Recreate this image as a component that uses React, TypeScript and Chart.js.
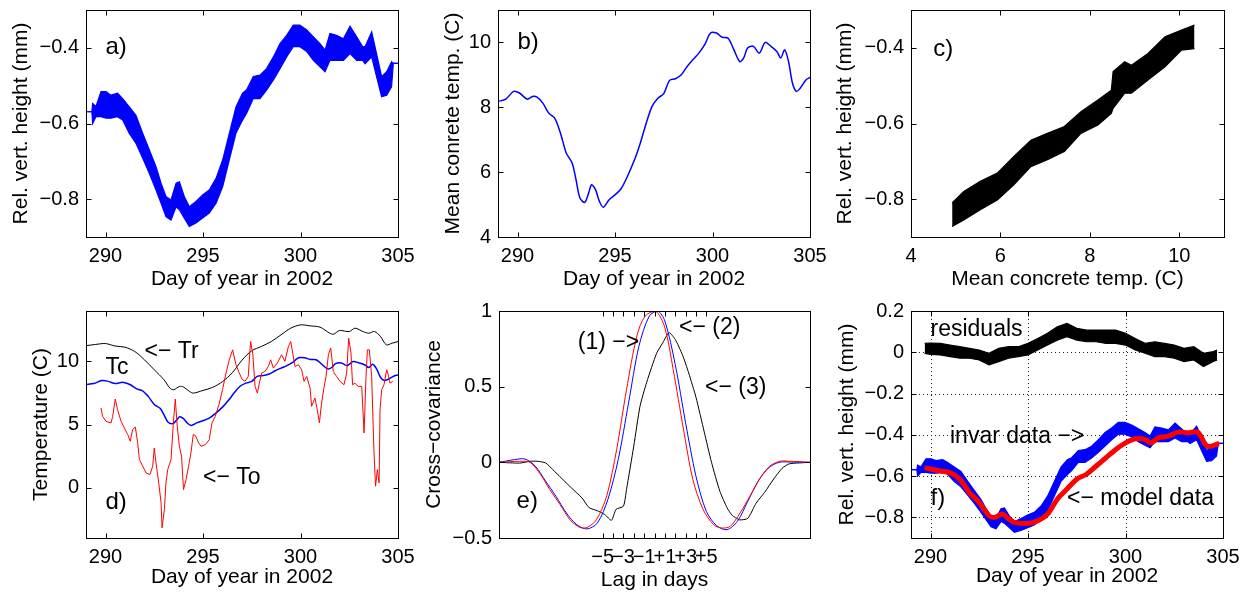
import React, { useEffect, useRef } from "react";
import { Chart, registerables } from "chart.js";

Chart.register(...registerables);

const FONT = '"Liberation Sans", Arial, Helvetica, sans-serif';
const TICK_FONT = 20;
const TITLE_FONT = 21;
const NOTE_FONT = 23;
const BLUE = "#0000ff";
const RED = "#ff0000";
const BLACK = "#000000";

// ---------- Tick values ----------
const dayTicks = [290, 295, 300, 305];
const heightTicks = [-0.8, -0.6, -0.4];
const concreteTicks = [4, 6, 8, 10];
const tempTicks = [0, 5, 10];
const lagTicks = [-5, -4, -3, -2, -1, 0, 1, 2, 3, 4, 5];
const lagTickLabels = ["\u22125", "", "\u22123", "", "\u22121", "", "+1", "", "+3", "", "+5"];
const covTicks = [-0.5, 0, 0.5, 1];
const fTicks = [-0.8, -0.6, -0.4, -0.2, 0, 0.2];

// ---------- Invar relative vertical height (band: upper/lower envelope) ----------
const hDays = [289.0, 289.3, 289.34, 289.51, 289.77, 290.03, 290.28, 290.62, 290.88, 291.22,
  291.56, 291.91, 292.25, 292.59, 292.85, 293.1, 293.36, 293.62, 293.79, 294.04,
  294.3, 294.64, 294.98, 295.32, 295.67, 296.01, 296.35, 296.69, 297.03, 297.24,
  297.58, 297.92, 298.26, 298.61, 298.95, 299.29, 299.63, 299.97, 300.32, 300.66,
  301.0, 301.26, 301.51, 301.85, 302.2, 302.54, 302.88, 303.19, 303.31, 303.65,
  303.9, 304.16, 304.42, 304.67, 304.76, 305.05];
const hUpper = [-0.569, -0.569, -0.547, -0.555, -0.516, -0.516, -0.525, -0.52, -0.534, -0.556,
  -0.578, -0.626, -0.67, -0.714, -0.758, -0.793, -0.802, -0.758, -0.754, -0.793,
  -0.82, -0.806, -0.789, -0.776, -0.745, -0.696, -0.626, -0.556, -0.52, -0.511,
  -0.476, -0.472, -0.455, -0.424, -0.389, -0.367, -0.34, -0.34, -0.353, -0.371,
  -0.389, -0.406, -0.362, -0.367, -0.376, -0.343, -0.371, -0.397, -0.397, -0.358,
  -0.415, -0.476, -0.463, -0.437, -0.441, -0.441];
const hLower = [-0.569, -0.569, -0.6, -0.582, -0.582, -0.586, -0.586, -0.582, -0.591, -0.626,
  -0.652, -0.692, -0.732, -0.776, -0.811, -0.846, -0.855, -0.82, -0.828, -0.85,
  -0.872, -0.863, -0.85, -0.837, -0.811, -0.767, -0.696, -0.626, -0.591, -0.573,
  -0.534, -0.534, -0.512, -0.485, -0.455, -0.424, -0.397, -0.397, -0.41, -0.433,
  -0.45, -0.463, -0.433, -0.433, -0.433, -0.415, -0.433, -0.433, -0.442, -0.424,
  -0.476, -0.529, -0.525, -0.503, -0.441, -0.441];

// ---------- Mean concrete temperature Tc ----------
const tcDays = [289, 289.4, 289.8, 290.1, 290.5, 290.8, 291.0, 291.3, 291.6, 291.9,
  292.2, 292.5, 292.8, 293.0, 293.2, 293.45, 293.65, 293.8, 294.0, 294.2,
  294.4, 294.7, 295.0, 295.3, 295.6, 296.0, 296.3, 296.6, 296.9, 297.2,
  297.5, 297.8, 298.1, 298.4, 298.7, 299.0, 299.3, 299.6, 299.9, 300.2,
  300.5, 300.8, 301.1, 301.4, 301.6, 301.8, 302.1, 302.4, 302.7, 303.0,
  303.3, 303.5, 303.7, 303.9, 304.1, 304.3, 304.5, 304.8, 305.0];
const tcValues = [8.18, 8.25, 8.49, 8.44, 8.25, 8.34, 8.31, 8.13, 7.82, 7.67,
  7.21, 6.59, 6.28, 5.77, 5.2, 5.07, 5.36, 5.61, 5.46, 5.1,
  4.92, 5.15, 5.3, 5.48, 5.82, 6.38, 6.9, 7.51, 8.03, 8.28,
  8.42, 8.83, 8.88, 9.0, 9.26, 9.47, 9.67, 9.93, 10.29, 10.29,
  10.16, 10.13, 9.77, 9.41, 9.52, 9.83, 9.88, 9.67, 10.0, 9.88,
  9.72, 9.52, 9.77, 9.41, 8.75, 8.49, 8.59, 8.85, 8.92];

// ---------- Height vs concrete temperature (band) ----------
const cTemp = [4.92, 5.18, 5.55, 5.93, 6.3, 6.68, 7.05, 7.43, 7.8, 8.18, 8.48, 8.52, 8.78, 8.93, 9.3, 9.68, 10.05, 10.34];
const cUpper = [-0.81, -0.78, -0.753, -0.731, -0.687, -0.644, -0.626, -0.608, -0.569, -0.538, -0.512, -0.463, -0.437, -0.446, -0.415, -0.371, -0.353, -0.34];
const cLower = [-0.872, -0.855, -0.828, -0.802, -0.762, -0.714, -0.696, -0.674, -0.626, -0.604, -0.573, -0.56, -0.52, -0.52, -0.485, -0.45, -0.406, -0.402];

// ---------- Tr (black) ----------
const trDays = [289, 289.5, 290, 290.5, 291, 291.5, 292, 292.5, 293, 293.3,
  293.5, 293.8, 294.0, 294.3, 294.5, 295, 295.5, 296, 296.5, 297,
  297.5, 298, 298.5, 299, 299.5, 300, 300.5, 301, 301.5, 301.7,
  302, 302.5, 302.8, 303.2, 303.5, 303.8, 304.1, 304.4, 304.7, 305];
const trValues = [11.25, 11.35, 11.42, 11.22, 11.13, 10.79, 10.13, 9.34, 8.55, 7.89,
  7.76, 8.02, 7.97, 7.63, 7.49, 7.7, 7.95, 8.4, 9.1, 10.1,
  10.85, 11.19, 11.58, 12.11, 12.64, 12.9, 12.82, 12.72, 12.24, 12.16,
  12.45, 12.37, 12.64, 12.37, 12.24, 12.37, 11.98, 11.32, 11.45, 11.58];

// ---------- To (red) ----------
const toDays = [289.77, 289.85, 290.03, 290.28, 290.37, 290.5, 290.62, 290.8, 290.97, 291.14,
  291.27, 291.39, 291.53, 291.65, 291.74, 291.91, 292.08, 292.28, 292.42, 292.5,
  292.59, 292.73, 292.85, 292.9, 293.02, 293.1, 293.19, 293.36, 293.48, 293.58,
  293.68, 293.79, 293.9, 294.0, 294.13, 294.26, 294.38, 294.5, 294.61, 294.78,
  294.9, 295.12, 295.32, 295.46, 295.63, 295.84, 296.0, 296.18, 296.35, 296.52,
  296.69, 296.86, 297.0, 297.15, 297.32, 297.44, 297.55, 297.67, 297.79, 297.89,
  298.01, 298.18, 298.35, 298.47, 298.61, 298.81, 299.03, 299.2, 299.38, 299.5,
  299.6, 299.72, 299.89, 300.06, 300.18, 300.32, 300.49, 300.57, 300.74, 300.86,
  300.97, 301.07, 301.2, 301.31, 301.43, 301.55, 301.68, 301.85, 302.03, 302.23,
  302.37, 302.47, 302.59, 302.67, 302.79, 302.96, 303.14, 303.26, 303.36, 303.43,
  303.53, 303.65, 303.77, 303.85, 303.94, 304.03, 304.08, 304.16, 304.28, 304.42,
  304.5, 304.59, 304.73];
const toValues = [6.31, 5.65, 5.25, 5.12, 5.65, 7.02, 6.17, 5.25, 4.72, 4.2,
  3.67, 4.59, 4.8, 3.54, 2.22, 1.69, 1.16, 1.03, 1.69, 3.14,
  1.95, 0.37, -1.21, -3.19, -1.74, 0.37, 1.42, 2.22, 5.12, 7.02,
  4.85, 3.27, 2.48, -0.16, 0.63, 1.69, 2.74, 4.2, 4.12, 3.54,
  3.27, 3.4, 3.8, 5.12, 5.65, 6.7, 7.76, 9.08, 10.13, 10.92,
  9.74, 9.08, 8.6, 8.42, 8.81, 11.58, 10.66, 8.02, 7.49, 8.28,
  9.08, 9.21, 9.6, 10.13, 9.47, 9.87, 10.53, 10.0, 11.19, 11.58,
  10.66, 9.6, 9.74, 9.34, 8.42, 8.81, 7.89, 6.44, 7.1, 6.17,
  5.12, 6.57, 7.89, 8.81, 10.53, 11.06, 9.21, 8.81, 8.42, 8.15,
  9.08, 11.85, 10.66, 8.15, 8.28, 8.02, 8.02, 4.33, 8.81, 10.92,
  10.92, 8.81, 2.74, 0.11, 1.42, 0.37, 6.17, 7.76, 8.15, 9.34,
  8.94, 8.28, 8.42];

// ---------- Cross-covariance ----------
const eRedLag = [-15, -13, -12, -11, -10.1, -9.1, -8.15, -7.2, -6.5, -5.6,
  -4.6, -3.65, -2.7, -1.7, -0.9, 0.1, 1.0, 1.8, 2.8, 3.7,
  4.7, 5.7, 6.5, 7.3, 8.25, 9.2, 10.2, 11.1, 12.1, 13.1, 15];
const eRed = [0, 0.007, 0, -0.08, -0.18, -0.28, -0.38, -0.43, -0.43, -0.38,
  -0.22, 0.085, 0.48, 0.835, 0.967, 1.0, 0.89, 0.614, 0.217, -0.114,
  -0.313, -0.412, -0.434, -0.423, -0.335, -0.224, -0.103, -0.026, 0.007, 0.007, 0];
const eBlueLag = [-15, -13.5, -12.5, -11.5, -10.5, -9.5, -8.5, -7.5, -6.5, -5.5,
  -4.5, -3.5, -2.5, -1.5, -0.5, 0.3, 1.0, 2.0, 3.0, 4.0,
  5.0, 6.0, 7.0, 8.0, 9.0, 10.0, 11.0, 12.0, 13.0, 15];
const eBlue = [0, 0.018, 0.022, -0.025, -0.125, -0.225, -0.335, -0.412, -0.44, -0.4,
  -0.246, 0.018, 0.393, 0.768, 0.967, 1.0, 0.934, 0.647, 0.261, -0.092,
  -0.324, -0.419, -0.445, -0.39, -0.257, -0.125, -0.037, 0, 0.002, 0];
const eBlackLag = [-15, -13, -12, -11.3, -10.5, -9.8, -9, -8, -7, -6.3,
  -5.5, -4.8, -4.15, -3.7, -3.0, -2.7, -2.0, -1.4, -0.75, 0.2,
  0.8, 1.4, 2.0, 2.7, 3.3, 4.0, 4.8, 5.5, 6.3, 7.0,
  7.5, 8.2, 9.0, 9.8, 10.6, 11.5, 12.3, 13, 15];
const eBlack = [0, -0.005, 0.007, 0.007, -0.004, -0.049, -0.103, -0.17, -0.235, -0.3,
  -0.32, -0.345, -0.383, -0.31, -0.29, -0.18, 0.107, 0.37, 0.53, 0.72,
  0.79, 0.857, 0.812, 0.71, 0.59, 0.43, 0.2, 0.0, -0.19, -0.3,
  -0.35, -0.38, -0.37, -0.27, -0.2, -0.11, -0.04, -0.01, 0];

// ---------- Residuals (band) ----------
const rDays = [289.7, 290.0, 290.5, 291.0, 291.5, 292.0, 292.5, 293.0, 293.5, 294.0,
  294.5, 295.0, 295.5, 296.0, 296.5, 297.0, 297.5, 298.0, 298.5, 299.0,
  299.5, 300.0, 300.5, 301.0, 301.5, 302.0, 302.5, 303.0, 303.5, 304.0, 304.5, 304.7];
const rUpper = [0.043, 0.045, 0.043, 0.035, 0.027, 0.019, 0.011, -0.005, 0.019, 0.027,
  0.027, 0.043, 0.067, 0.092, 0.124, 0.14, 0.116, 0.108, 0.108, 0.108,
  0.108, 0.092, 0.067, 0.043, 0.051, 0.043, 0.035, 0.019, 0.027, -0.005, 0.003, 0.011];
const rLower = [-0.005, -0.01, -0.013, -0.021, -0.029, -0.029, -0.037, -0.061, -0.045, -0.029,
  -0.021, -0.013, 0.011, 0.035, 0.059, 0.075, 0.059, 0.051, 0.051, 0.043,
  0.043, 0.035, 0.011, -0.005, -0.021, -0.021, -0.029, -0.045, -0.037, -0.069, -0.045, -0.037];

// ---------- Model data (red) ----------
const mDays = [289.7, 290.5, 291.0, 291.5, 292.0, 292.5, 293.0, 293.3, 293.7, 294.0,
  294.3, 295.0, 295.5, 296.0, 296.5, 297.0, 297.5, 298.0, 298.5, 299.0,
  299.5, 300.0, 300.5, 301.0, 301.3, 301.7, 302.2, 302.7, 303.2, 303.7, 304.2, 304.8];
const mValues = [-0.559, -0.575, -0.583, -0.615, -0.68, -0.728, -0.792, -0.8, -0.784, -0.808,
  -0.824, -0.829, -0.816, -0.784, -0.712, -0.663, -0.615, -0.591, -0.551, -0.511,
  -0.471, -0.439, -0.419, -0.422, -0.439, -0.414, -0.406, -0.387, -0.39, -0.387, -0.455, -0.442];

// ---------- helpers ----------
const pts = (xs: number[], ys: number[]) => xs.map((x, i) => ({ x, y: ys[i] }));
const fmt = (v: number) => (v < 0 ? "\u2212" + String(Math.abs(v)) : String(v));

const line = (xs: number[], ys: number[], color: string, width: number, tension = 0) => ({
  data: pts(xs, ys), borderColor: color, backgroundColor: color, borderWidth: width,
  pointRadius: 0, tension, fill: false, borderJoinStyle: "round" as const,
});
const band = (xs: number[], upper: number[], lower: number[], color: string) => [
  { data: pts(xs, upper), borderColor: color, backgroundColor: color, borderWidth: 1.2, pointRadius: 0, fill: "+1" },
  { data: pts(xs, lower), borderColor: color, backgroundColor: color, borderWidth: 1.2, pointRadius: 0, fill: false },
];
// later datasets are drawn on top (as in MATLAB)
const stacked = (ds: any[]) => ds.map((d, i) => ({ ...d, order: ds.length - i }));

type Note = { x: number; y: number; text: string; size?: number };

function axesPlugin(notes: Note[], grid: boolean) {
  return {
    id: "matlabAxes",
    beforeDatasetsDraw(chart: any) {
      if (!grid) return;
      const { ctx, chartArea: ca, scales } = chart;
      const x = scales.x, y = scales.y;
      ctx.save();
      ctx.strokeStyle = "#222";
      ctx.lineWidth = 1;
      ctx.setLineDash([1, 3]);
      ctx.beginPath();
      for (const t of x.ticks) {
        const px = Math.round(x.getPixelForValue(t.value)) + 0.5;
        if (px < ca.left + 2 || px > ca.right - 2) continue;
        ctx.moveTo(px, ca.top); ctx.lineTo(px, ca.bottom);
      }
      for (const t of y.ticks) {
        const py = Math.round(y.getPixelForValue(t.value)) + 0.5;
        if (py < ca.top + 2 || py > ca.bottom - 2) continue;
        ctx.moveTo(ca.left, py); ctx.lineTo(ca.right, py);
      }
      ctx.stroke();
      ctx.restore();
    },
    afterDatasetsDraw(chart: any) {
      const { ctx, chartArea: ca, scales } = chart;
      const x = scales.x, y = scales.y;
      ctx.save();
      ctx.strokeStyle = "#000";
      ctx.lineWidth = 1;
      const L = Math.round(ca.left) + 0.5, T = Math.round(ca.top) + 0.5;
      const R = Math.round(ca.right) + 0.5, B = Math.round(ca.bottom) + 0.5;
      ctx.strokeRect(L, T, R - L, B - T);
      const TL = 5;
      ctx.beginPath();
      for (const t of x.ticks) {
        const px = Math.round(x.getPixelForValue(t.value)) + 0.5;
        ctx.moveTo(px, B); ctx.lineTo(px, B - TL);
        ctx.moveTo(px, T); ctx.lineTo(px, T + TL);
      }
      for (const t of y.ticks) {
        const py = Math.round(y.getPixelForValue(t.value)) + 0.5;
        ctx.moveTo(L, py); ctx.lineTo(L + TL, py);
        ctx.moveTo(R, py); ctx.lineTo(R - TL, py);
      }
      ctx.stroke();
      ctx.fillStyle = "#000";
      ctx.textAlign = "left";
      ctx.textBaseline = "middle";
      for (const n of notes) {
        ctx.font = `${n.size || NOTE_FONT}px ${FONT}`;
        ctx.fillText(n.text, x.getPixelForValue(n.x), y.getPixelForValue(n.y));
      }
      ctx.restore();
    },
  };
}

type Spec = {
  l: number; t: number; r: number; b: number;
  yTitleDx: number; xTitleDy: number;
  xMin: number; xMax: number; yMin: number; yMax: number;
  xTicks: number[]; yTicks: number[];
  xLabels?: string[];
  xTitle: string; yTitle: string;
  datasets: any[]; notes: Note[]; grid?: boolean;
};

const PAD_TOP = 12;
const PAD_RIGHT = 28;
const HALF = (TITLE_FONT * 1.2) / 2;

function Panel({ spec }: { spec: Spec }) {
  const ref = useRef<HTMLCanvasElement>(null);
  const yW = Math.ceil(spec.yTitleDx + HALF);
  const xH = Math.ceil(spec.xTitleDy + HALF);
  const left = spec.l - yW;
  const top = spec.t - PAD_TOP;
  const width = yW + (spec.r - spec.l) + PAD_RIGHT;
  const height = PAD_TOP + (spec.b - spec.t) + xH;

  useEffect(() => {
    if (!ref.current) return;
    const tickFont = { family: FONT, size: TICK_FONT };
    const titleFont = { family: FONT, size: TITLE_FONT };
    const chart = new Chart(ref.current, {
      type: "line",
      data: { datasets: stacked(spec.datasets) },
      options: {
        animation: false,
        responsive: false,
        devicePixelRatio: 1,
        layout: { padding: { top: PAD_TOP, right: PAD_RIGHT, left: 0, bottom: 0 } },
        plugins: { legend: { display: false }, tooltip: { enabled: false } },
        scales: {
          x: {
            type: "linear", min: spec.xMin, max: spec.xMax,
            grid: { display: false, drawTicks: false }, border: { display: false },
            afterBuildTicks: (s: any) => { s.ticks = spec.xTicks.map((v) => ({ value: v })); },
            afterFit: (s: any) => { s.height = xH; s.paddingLeft = 0; s.paddingRight = 0; },
            ticks: {
              autoSkip: false, maxRotation: 0, minRotation: 0, padding: 7, color: "#000", font: tickFont,
              callback: (v: any, i: number) => (spec.xLabels ? spec.xLabels[i] : fmt(Number(v))),
            },
            title: {
              display: true, text: spec.xTitle, color: "#000", font: titleFont,
              padding: { top: 0, bottom: xH - spec.xTitleDy - HALF },
            },
          },
          y: {
            type: "linear", min: spec.yMin, max: spec.yMax,
            grid: { display: false, drawTicks: false }, border: { display: false },
            afterBuildTicks: (s: any) => { s.ticks = spec.yTicks.map((v) => ({ value: v })); },
            afterFit: (s: any) => { s.width = yW; s.paddingTop = 0; s.paddingBottom = 0; },
            ticks: {
              autoSkip: false, padding: 7, color: "#000", font: tickFont,
              callback: (v: any) => fmt(Number(v)),
            },
            title: {
              display: true, text: spec.yTitle, color: "#000", font: titleFont,
              padding: { top: yW - spec.yTitleDx - HALF, bottom: 0 },
            },
          },
        },
      } as any,
      plugins: [axesPlugin(spec.notes, !!spec.grid)],
    });
    return () => chart.destroy();
  }, []);

  return (
    <canvas
      ref={ref}
      width={width}
      height={height}
      style={{ position: "absolute", left, top, width, height }}
    />
  );
}

const DAY_TITLE = "Day of year in 2002";
const HEIGHT_TITLE = "Rel. vert. height (mm)";

const specs: Spec[] = [
  {
    l: 86, t: 10, r: 398, b: 237, yTitleDx: 65, xTitleDy: 42,
    xMin: 289, xMax: 305, yMin: -0.9, yMax: -0.3, xTicks: dayTicks, yTicks: heightTicks,
    xTitle: DAY_TITLE, yTitle: HEIGHT_TITLE,
    datasets: band(hDays, hUpper, hLower, BLUE),
    notes: [{ x: 290, y: -0.4, text: "a)", size: 24 }],
  },
  {
    l: 498, t: 10, r: 810, b: 237, yTitleDx: 45, xTitleDy: 42,
    xMin: 289, xMax: 305, yMin: 4, yMax: 11, xTicks: dayTicks, yTicks: concreteTicks,
    xTitle: DAY_TITLE, yTitle: "Mean conrete temp. (C)",
    datasets: [line(tcDays, tcValues, BLUE, 1.5, 0.3)],
    notes: [{ x: 290, y: 10.0, text: "b)", size: 24 }],
  },
  {
    l: 911, t: 10, r: 1224, b: 237, yTitleDx: 65.5, xTitleDy: 42,
    xMin: 4, xMax: 11, yMin: -0.9, yMax: -0.3, xTicks: concreteTicks, yTicks: heightTicks,
    xTitle: "Mean concrete temp. (C)", yTitle: HEIGHT_TITLE,
    datasets: band(cTemp, cUpper, cLower, BLACK),
    notes: [{ x: 4.5, y: -0.405, text: "c)", size: 24 }],
  },
  {
    l: 86, t: 311, r: 398, b: 538, yTitleDx: 45, xTitleDy: 39,
    xMin: 289, xMax: 305, yMin: -4, yMax: 14, xTicks: dayTicks, yTicks: tempTicks,
    xTitle: DAY_TITLE, yTitle: "Temperature (C)",
    datasets: [
      line(trDays, trValues, BLACK, 1, 0.3),
      line(tcDays, tcValues, BLUE, 1.5, 0.3),
      line(toDays, toValues, RED, 1),
    ],
    notes: [
      { x: 292, y: 10.8, text: "<\u2212 Tr" },
      { x: 290, y: 9.5, text: "Tc" },
      { x: 295, y: 0.8, text: "<\u2212 To" },
      { x: 290, y: -1.2, text: "d)", size: 24 },
    ],
  },
  {
    l: 499, t: 311, r: 810, b: 538, yTitleDx: 65, xTitleDy: 42,
    xMin: -15, xMax: 15, yMin: -0.5, yMax: 1, xTicks: lagTicks, yTicks: covTicks,
    xLabels: lagTickLabels,
    xTitle: "Lag in days", yTitle: "Cross\u2212covariance",
    datasets: [
      line(eBlackLag, eBlack, BLACK, 1, 0.2),
      line(eBlueLag, eBlue, BLUE, 1, 0.3),
      line(eRedLag, eRed, RED, 1, 0.3),
    ],
    notes: [
      { x: -7.4, y: 0.79, text: "(1) \u2212>" },
      { x: 2.36, y: 0.89, text: "<\u2212 (2)" },
      { x: 4.87, y: 0.495, text: "<\u2212 (3)" },
      { x: -13.3, y: -0.26, text: "e)", size: 24 },
    ],
  },
  {
    l: 911, t: 311, r: 1223, b: 538, yTitleDx: 64, xTitleDy: 38,
    xMin: 289, xMax: 305, yMin: -0.9, yMax: 0.2, xTicks: dayTicks, yTicks: fTicks,
    xTitle: DAY_TITLE, yTitle: HEIGHT_TITLE, grid: true,
    datasets: [
      ...band(rDays, rUpper, rLower, BLACK),
      ...band(hDays, hUpper, hLower, BLUE),
      line(mDays, mValues, RED, 5, 0.3),
    ],
    notes: [
      { x: 290, y: 0.11, text: "residuals" },
      { x: 291, y: -0.41, text: "invar data \u2212>" },
      { x: 297, y: -0.71, text: "<\u2212 model data" },
      { x: 290, y: -0.71, text: "f)", size: 24 },
    ],
  },
];

export default function App() {
  return (
    <div
      style={{
        position: "fixed", left: 0, top: 0, width: 1254, height: 594,
        background: "#ffffff", overflow: "hidden",
      }}
    >
      {specs.map((s, i) => (
        <Panel key={i} spec={s} />
      ))}
    </div>
  );
}
